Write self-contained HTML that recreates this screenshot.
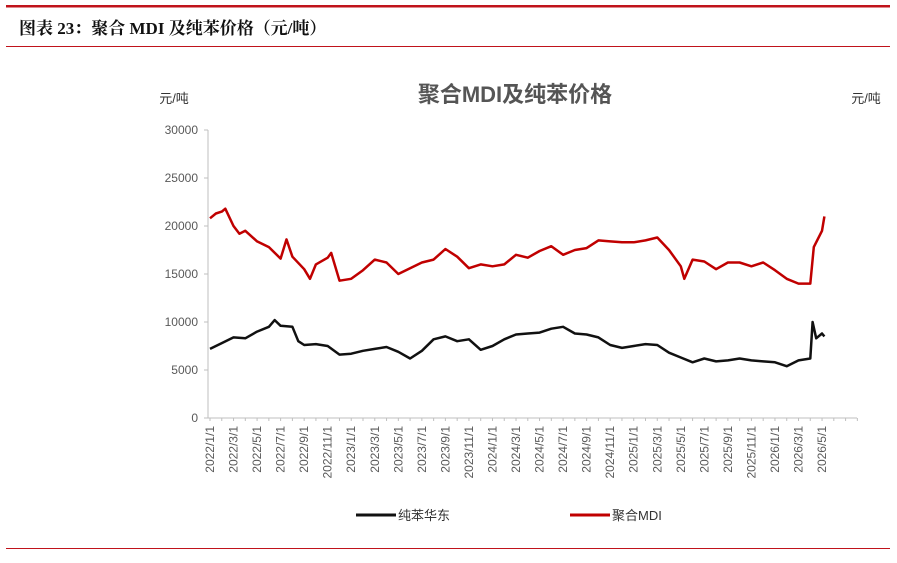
<!DOCTYPE html>
<html><head><meta charset="utf-8"><style>
body{margin:0;background:#fff;width:897px;height:558px;overflow:hidden;font-family:"Liberation Sans","Noto Sans CJK SC",sans-serif}
</style></head><body>
<svg width="897" height="558" xmlns="http://www.w3.org/2000/svg">
<rect x="6" y="5" width="884" height="2.5" fill="#c0131b"/>
<text x="19" y="34" font-family="'Liberation Serif','Noto Serif CJK SC',serif" font-weight="bold" font-size="17" fill="#111">图表 23：聚合 MDI 及纯苯价格（元/吨）</text>
<rect x="6" y="46" width="884" height="1" fill="#c0131b"/>
<rect x="6" y="548" width="884" height="1" fill="#c0131b"/>
<text x="515" y="102" text-anchor="middle" font-size="22" font-weight="bold" fill="#555">聚合MDI及纯苯价格</text>
<text x="174" y="103" text-anchor="middle" font-size="13" fill="#333">元/吨</text>
<text x="866" y="103" text-anchor="middle" font-size="13" fill="#333">元/吨</text>
<g id="yaxis"></g><g id="xaxis"></g><g id="series"></g>
<g>
<line x1="356" y1="515" x2="396" y2="515" stroke="#111" stroke-width="3"/>
<text x="398" y="520" font-size="13" fill="#333">纯苯华东</text>
<line x1="570" y1="515" x2="610" y2="515" stroke="#c00000" stroke-width="3"/>
<text x="612" y="520" font-size="13" fill="#333">聚合MDI</text>
</g>
</svg>
<script>
const yTicks=[0,5000,10000,15000,20000,25000,30000];
const xLabels=["2022/1/1","2022/3/1","2022/5/1","2022/7/1","2022/9/1","2022/11/1","2023/1/1","2023/3/1","2023/5/1","2023/7/1","2023/9/1","2023/11/1","2024/1/1","2024/3/1","2024/5/1","2024/7/1","2024/9/1","2024/11/1","2025/1/1","2025/3/1","2025/5/1","2025/7/1","2025/9/1","2025/11/1","2026/1/1","2026/3/1","2026/5/1"];
const mdiMonths=[0,0.5,1,1.3,2,2.5,3,4,5,6,6.5,7,8,8.5,9,10,10.3,11,12,13,14,15,16,17,18,19,20,21,22,23,24,25,26,27,28,29,30,31,32,33,34,35,36,37,38,39,40,40.3,41,42,43,44,45,46,47,48,49,50,51,51.3,52,52.2];
const mdiValues=[20800,21300,21500,21800,20000,19200,19500,18400,17800,16600,18600,16800,15500,14500,16000,16700,17200,14300,14500,15400,16500,16200,15000,15600,16200,16500,17600,16800,15600,16000,15800,16000,17000,16700,17400,17900,17000,17500,17700,18500,18400,18300,18300,18500,18800,17500,15800,14500,16500,16300,15500,16200,16200,15800,16200,15400,14500,14000,14000,17800,19500,21000];
const bzMonths=[0,1,2,3,4,5,5.5,6,7,7.5,8,9,10,11,12,13,14,15,16,17,18,19,20,21,22,23,24,25,26,27,28,29,30,31,32,33,34,35,36,37,38,39,40,41,42,43,44,45,46,47,48,49,50,51,51.2,51.5,52,52.2];
const bzValues=[7200,7800,8400,8300,9000,9500,10200,9600,9500,8000,7600,7700,7500,6600,6700,7000,7200,7400,6900,6200,7000,8200,8500,8000,8200,7100,7500,8200,8700,8800,8900,9300,9500,8800,8700,8400,7600,7300,7500,7700,7600,6800,6300,5800,6200,5900,6000,6200,6000,5900,5800,5400,6000,6200,10000,8300,8800,8500];
const NS='http://www.w3.org/2000/svg';
const y=v=>418-v*0.0096;
const x=m=>210+m*11.77;
function mk(t,a,p){const e=document.createElementNS(NS,t);for(const k in a)e.setAttribute(k,a[k]);p.appendChild(e);return e;}
const ya=document.getElementById('yaxis');
const yl=mk('line',{x1:208,y1:130,x2:208,y2:418,stroke:'#bfbfbf'},ya);


yTicks.forEach(v=>{
 const tk=mk('line',{x1:204,y1:y(v),x2:208,y2:y(v),stroke:'#bfbfbf'},ya);
 
 
 const t=mk('text',{x:198,y:y(v)+4,'text-anchor':'end','font-size':12,fill:'#595959'},ya);
 t.textContent=v;
 
 
});
const xa=document.getElementById('xaxis');
const xl=mk('line',{x1:208,y1:418,x2:857,y2:418,stroke:'#bfbfbf'},xa);


for(let m=0;m<=55;m++){const tk=mk('line',{x1:x(m),y1:418,x2:x(m),y2:421,stroke:'#bfbfbf'},xa);
 
 }
xLabels.forEach((s,i)=>{
 const px=x(i*2)+4;
 const t=mk('text',{x:0,y:0,transform:`translate(${px},426) rotate(-90)`,'text-anchor':'end','font-size':12,fill:'#595959'},xa);
 t.textContent=s;
 
 
});
const sg=document.getElementById('series');
function line(ms,vs,c,name){
 const d=ms.map((m,i)=>(i?'L':'M')+x(m).toFixed(1)+','+y(vs[i]).toFixed(1)).join('');
 const p=mk('path',{d:d,fill:'none',stroke:c,'stroke-width':2.5,'stroke-linejoin':'round'},sg);
 
 
}
line(mdiMonths,mdiValues,'#c00000','mdi-price-line');
line(bzMonths,bzValues,'#111111','benzene-price-line');
</script>
</body></html>
